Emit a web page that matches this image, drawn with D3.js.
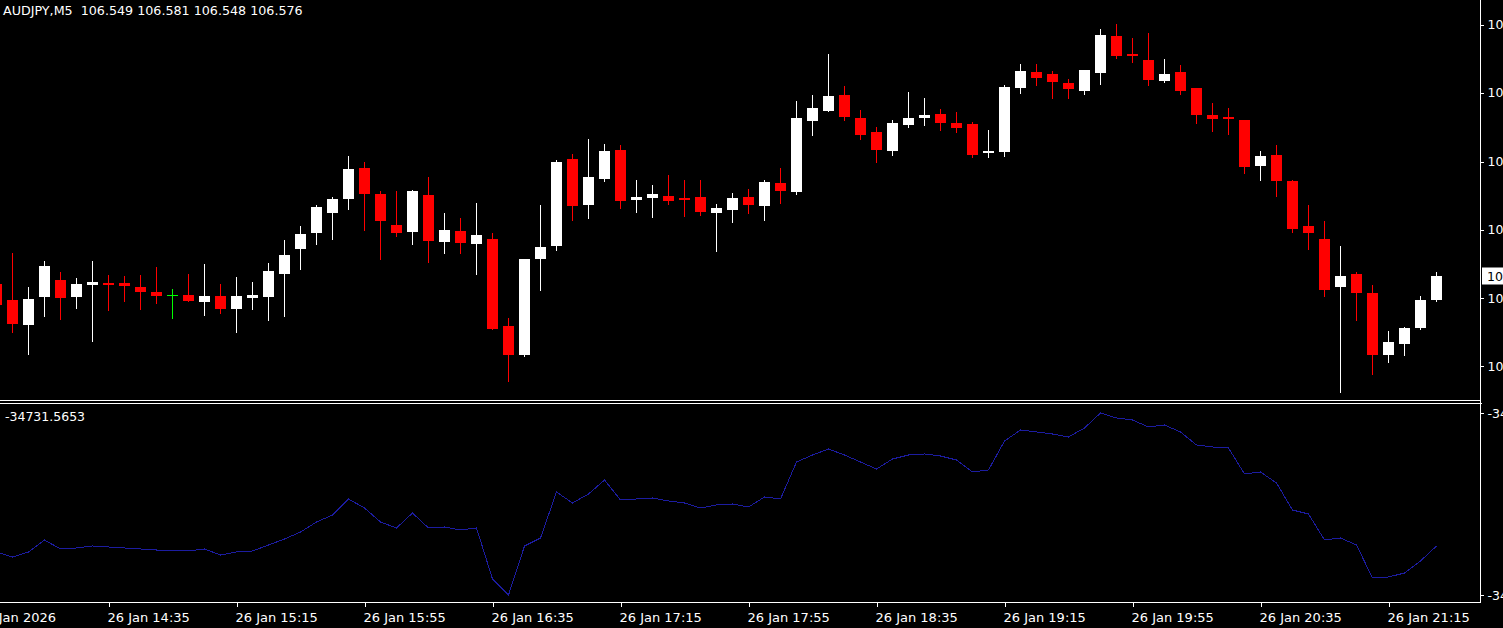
<!DOCTYPE html>
<html><head><meta charset="utf-8">
<script src="https://cdn.jsdelivr.net/npm/d3@7"></script>
<style>html,body{margin:0;padding:0;background:#000;overflow:hidden}svg{display:block}</style>
</head><body><svg id="c" width="1503" height="628"></svg>
<script>
const symbol = "AUDJPY,M5";
const startTime = new Date(2026, 0, 26, 14, 0);
const barMinutes = 5;
const open = [106.567,106.549,106.521,106.552,106.571,106.552,106.566,106.568,106.568,106.564,106.558,106.555,106.555,106.547,106.553,106.539,106.551,106.552,106.578,106.607,106.625,106.647,106.663,106.698,106.669,106.634,106.626,106.668,106.614,106.627,106.612,106.618,106.520,106.487,106.595,106.610,106.708,106.656,106.686,106.718,106.662,106.664,106.666,106.664,106.665,106.647,106.651,106.665,106.655,106.681,106.671,106.751,106.762,106.781,106.755,106.739,106.717,106.747,106.755,106.759,106.749,106.748,106.715,106.716,106.788,106.807,106.804,106.794,106.785,106.805,106.847,106.827,106.820,106.796,106.807,106.788,106.758,106.756,106.752,106.700,106.713,106.683,106.633,106.618,106.564,106.578,106.557,106.487,106.499,106.517,106.549];
const high = [106.571,106.602,106.564,106.593,106.580,106.574,106.593,106.577,106.576,106.577,106.586,106.561,106.578,106.590,106.567,106.575,106.569,106.591,106.617,106.633,106.656,106.665,106.712,106.705,106.672,106.672,106.673,106.688,106.647,106.642,106.658,106.625,106.529,106.595,106.656,106.707,106.714,106.731,106.725,106.724,106.684,106.679,106.690,106.684,106.684,106.657,106.670,106.674,106.684,106.698,106.774,106.781,106.827,106.791,106.764,106.744,106.752,106.784,106.777,106.765,106.761,106.750,106.741,106.792,106.816,106.816,106.808,106.799,106.809,106.855,106.861,106.845,106.851,106.821,106.814,106.788,106.771,106.766,106.752,106.717,106.724,106.684,106.656,106.638,106.610,106.580,106.566,106.514,106.518,106.553,106.581];
const low = [106.538,106.513,106.488,106.531,106.527,106.540,106.503,106.538,106.548,106.539,106.545,106.529,106.548,106.532,106.534,106.513,106.539,106.526,106.531,106.584,106.612,106.618,106.652,106.628,106.595,106.621,106.612,106.592,106.602,106.602,106.578,106.516,106.457,106.486,106.560,106.605,106.639,106.642,106.683,106.653,106.648,106.643,106.657,106.644,106.645,106.604,106.637,106.647,106.639,106.658,106.669,106.735,106.762,106.752,106.731,106.705,106.713,106.744,106.747,106.741,106.739,106.710,106.710,106.712,106.783,106.792,106.777,106.777,106.782,106.793,106.822,106.818,106.792,106.795,106.782,106.749,106.740,106.736,106.692,106.684,106.666,106.626,106.607,106.553,106.445,106.526,106.465,106.479,106.487,106.516,106.548];
const close = [106.543,106.522,106.550,106.587,106.551,106.567,106.569,106.566,106.565,106.558,106.553,106.555,106.548,106.553,106.539,106.553,106.555,106.582,106.600,106.623,106.654,106.663,106.697,106.669,106.638,106.625,106.672,106.616,106.628,106.613,106.622,106.516,106.487,106.595,106.609,106.705,106.655,106.688,106.717,106.661,106.665,106.669,106.661,106.662,106.648,106.653,106.664,106.656,106.682,106.672,106.755,106.766,106.779,106.756,106.735,106.718,106.749,106.755,106.758,106.749,106.743,106.713,106.717,106.790,106.808,106.800,106.795,106.787,106.809,106.848,106.825,106.825,106.797,106.804,106.785,106.758,106.753,106.753,106.699,106.712,106.683,106.629,106.625,106.560,106.576,106.557,106.487,106.501,106.517,106.549,106.576];
const obv = [-34749.6,-34764.6,-34749.6,-34713.6,-34740.6,-34737.6,-34731.6,-34734.6,-34737.6,-34740.6,-34743.6,-34743.6,-34746.6,-34740.6,-34758.6,-34749.6,-34746.6,-34728.6,-34710.6,-34689.6,-34659.6,-34638.6,-34590.6,-34617.6,-34659.6,-34677.6,-34632.6,-34677.6,-34674.6,-34683.6,-34677.6,-34830.6,-34878.6,-34731.6,-34707.6,-34569.6,-34602.6,-34575.6,-34533.6,-34593.6,-34590.6,-34587.6,-34596.6,-34602.6,-34617.6,-34608.6,-34605.6,-34614.6,-34584.6,-34590.6,-34479.6,-34458.6,-34440.6,-34458.6,-34479.6,-34500.6,-34470.6,-34458.6,-34455.6,-34461.6,-34473.6,-34509.6,-34503.6,-34416.6,-34383.6,-34389.6,-34395.6,-34404.6,-34377.6,-34332.6,-34347.6,-34353.6,-34374.6,-34368.6,-34389.6,-34428.6,-34434.6,-34437.6,-34515.6,-34509.6,-34542.6,-34623.6,-34635.6,-34713.6,-34707.6,-34728.6,-34827.6,-34824.6,-34812.6,-34776.6,-34731.5653];
const priceTicks = [106.860, 106.783, 106.705, 106.628, 106.551, 106.474];
const timeTicks = ["14:35","15:15","15:55","16:35","17:15","17:55","18:35","19:15","19:55","20:35","21:15"];
const firstDateLabel = "26 Jan 2026";
const dayLabel = "26 Jan";

const W = 1503, H = 628;
const axisX = 1480.5;
const mainTop = 0, mainBottom = 400;
const subBottom = 602.5;
const fontFamily = "DejaVu Sans, Verdana, sans-serif";
const loc = d3.formatLocale({decimal: ".", thousands: "", grouping: [3], currency: ["", ""], minus: "-"});
const f3 = loc.format(".3f"), f4 = loc.format(".4f");

const times = open.map((d, i) => d3.timeMinute.offset(startTime, i * barMinutes));
const x = d3.scaleTime().domain([times[0], times[times.length - 1]]).range([-3.5, 1436.5]);
const y = d3.scaleLinear().domain([106.43588, 106.88788]).range([mainBottom, mainTop]);
const ys = d3.scaleLinear().domain([d3.min(obv), d3.max(obv)]).range([595, 413]);

const svg = d3.select("#c");
svg.append("rect").attr("width", W).attr("height", H).attr("fill", "#000");

const chart = svg.append("g");
chart.append("clipPath").attr("id", "mainclip").append("rect").attr("x", 0).attr("y", 0).attr("width", 1480).attr("height", 400);
chart.append("clipPath").attr("id", "subclip").append("rect").attr("x", 0).attr("y", 404).attr("width", 1480).attr("height", 198);

const bars = chart.append("g").attr("clip-path", "url(#mainclip)").attr("shape-rendering", "crispEdges");
const bw = 11;
const data = times.map((t, i) => ({t, o: open[i], h: high[i], l: low[i], c: close[i]}));
const col = d => d.c > d.o ? "#ffffff" : (d.c < d.o ? "#ff0000" : "#00ff00");
const px = v => Math.round(y(v));

bars.selectAll("line.wick").data(data).join("line")
  .attr("class", "wick")
  .attr("x1", d => x(d.t)).attr("x2", d => x(d.t))
  .attr("y1", d => px(d.h)).attr("y2", d => px(d.l) + 1)
  .attr("stroke", col).attr("stroke-width", 1);

bars.selectAll("rect.body").data(data).join("rect")
  .attr("class", "body")
  .attr("x", d => x(d.t) - bw / 2)
  .attr("width", bw)
  .attr("y", d => Math.min(px(d.o), px(d.c)))
  .attr("height", d => Math.max(1, Math.abs(px(d.o) - px(d.c))))
  .attr("fill", col);

// indicator line
const sub = chart.append("g").attr("clip-path", "url(#subclip)");
sub.append("path")
  .datum(obv)
  .attr("d", d3.line().x((d, i) => x(times[i])).y(d => ys(d)))
  .attr("fill", "none").attr("stroke", "#1c1ca0").attr("stroke-width", 1)
  .attr("shape-rendering", "crispEdges");

// frame lines
const frame = svg.append("g").attr("stroke", "#ffffff").attr("stroke-width", 1).attr("shape-rendering", "crispEdges");
frame.append("line").attr("x1", axisX).attr("x2", axisX).attr("y1", 0).attr("y2", subBottom);
frame.append("line").attr("x1", 0).attr("x2", axisX).attr("y1", 400.5).attr("y2", 400.5);
frame.append("line").attr("x1", 0).attr("x2", axisX + 1).attr("y1", 403.5).attr("y2", 403.5);
frame.append("line").attr("x1", 0).attr("x2", axisX).attr("y1", subBottom).attr("y2", subBottom);

// price axis
const yAxis = d3.axisRight(y).tickValues(priceTicks).tickFormat(f3).tickSize(3).tickPadding(4);
const ga = svg.append("g").attr("transform", `translate(${axisX},0)`).call(yAxis);
ga.select(".domain").remove();
ga.selectAll(".tick line").attr("stroke", "#fff").attr("shape-rendering", "crispEdges");
ga.selectAll(".tick text").attr("fill", "#fff").attr("font-family", fontFamily).attr("font-size", 12.5);

// current price label
const lastClose = close[close.length - 1];
const cy = y(lastClose);
svg.append("rect").attr("x", 1482).attr("y", cy - 8.5).attr("width", 30).attr("height", 17).attr("fill", "#fff");
svg.append("text").attr("x", 1487).attr("y", cy + 4.5).attr("fill", "#000")
  .attr("font-family", fontFamily).attr("font-size", 12.5).text(f3(lastClose));

// indicator axis
const subTicks = [d3.max(obv), d3.min(obv)];
const sAxis = d3.axisRight(ys).tickValues(subTicks).tickFormat(f4).tickSize(3).tickPadding(4);
const gs = svg.append("g").attr("transform", `translate(${axisX},0)`).call(sAxis);
gs.select(".domain").remove();
gs.selectAll(".tick line").attr("stroke", "#fff").attr("shape-rendering", "crispEdges");
gs.selectAll(".tick text").attr("fill", "#fff").attr("font-family", fontFamily).attr("font-size", 12.5);

// time axis
const tt = timeTicks.map(s => { const [hh, mm] = s.split(":").map(Number); return new Date(2026, 0, 26, hh, mm); });
const xAxis = d3.axisBottom(x).tickValues(tt).tickFormat(d => dayLabel + " " + d3.timeFormat("%H:%M")(d)).tickSize(4).tickPadding(0);
const gx = svg.append("g").attr("transform", `translate(0,${subBottom})`).call(xAxis);
gx.select(".domain").remove();
gx.selectAll(".tick line").attr("stroke", "#fff").attr("shape-rendering", "crispEdges");
gx.selectAll(".tick text").attr("fill", "#fff").attr("font-family", fontFamily).attr("font-size", 13)
  .attr("text-anchor", "start").attr("dx", -1.5).attr("dy", 0).attr("y", 19);
svg.append("text").attr("x", 56).attr("y", 621.5).attr("text-anchor", "end").attr("fill", "#fff")
  .attr("font-family", fontFamily).attr("font-size", 13).text(firstDateLabel);

// header texts
svg.append("text").attr("x", 3).attr("y", 15).attr("fill", "#fff").attr("font-family", fontFamily).attr("font-size", 12.7)
  .style("white-space", "pre")
  .text(`${symbol}  ${f3(open[open.length-1])} ${f3(high[high.length-1])} ${f3(low[low.length-1])} ${f3(lastClose)}`);
svg.append("text").attr("x", 5).attr("y", 421).attr("fill", "#fff").attr("font-family", fontFamily).attr("font-size", 12.5)
  .text(f4(obv[obv.length - 1]));
</script></body></html>
